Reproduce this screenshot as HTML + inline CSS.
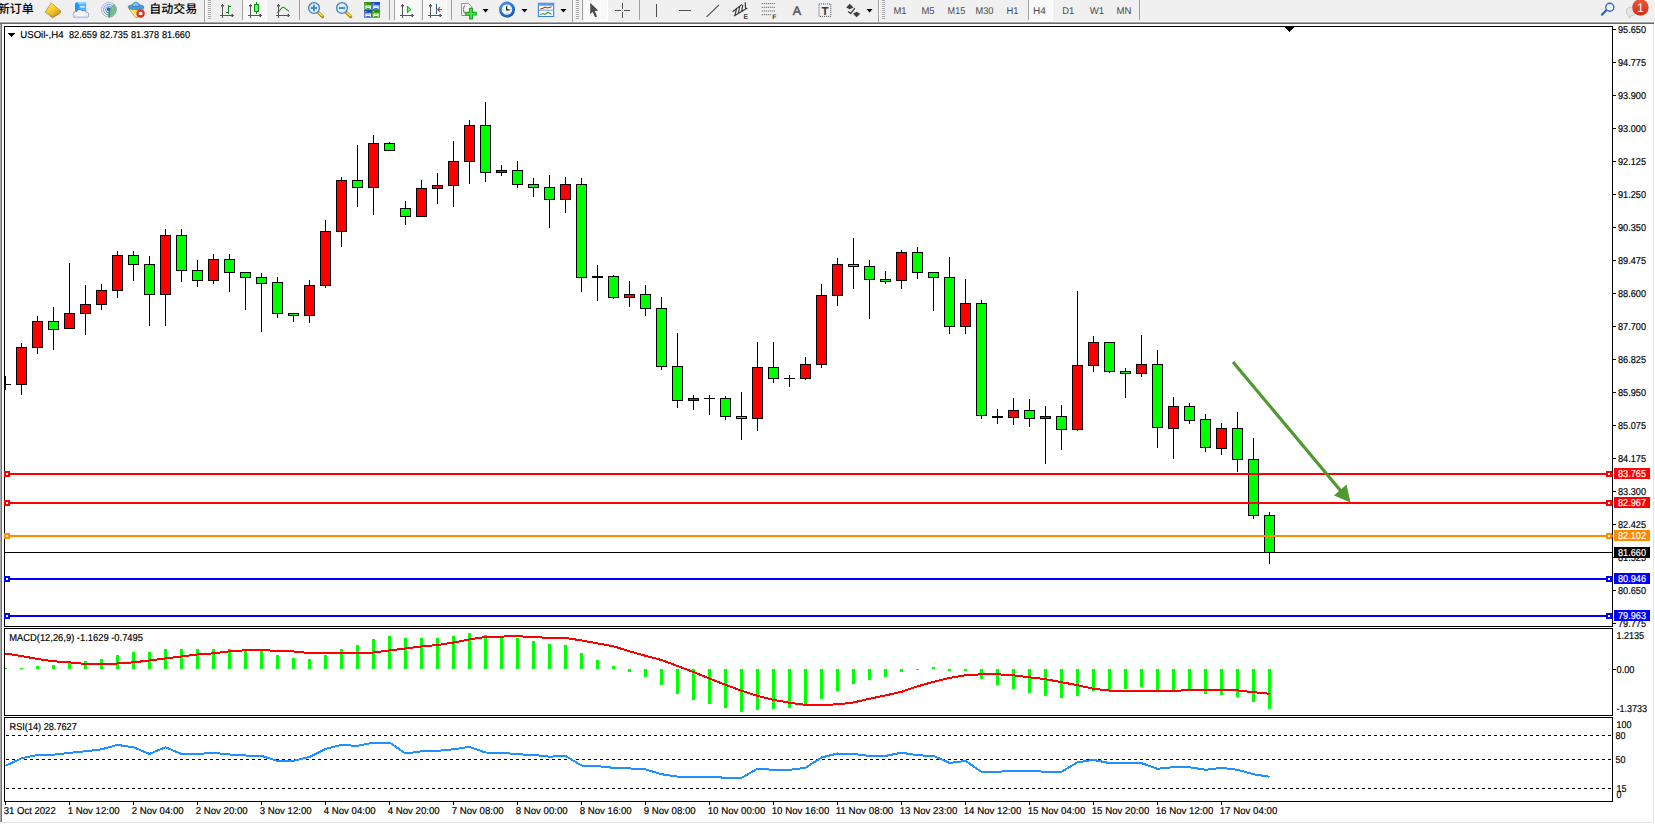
<!DOCTYPE html>
<html lang="zh-CN"><head><meta charset="utf-8"><title>USOil-,H4</title>
<style>html,body{margin:0;padding:0;background:#f0f0f0;overflow:hidden}svg{display:block}text{font-family:"Liberation Sans","Noto Sans CJK SC",sans-serif;white-space:pre;text-rendering:geometricPrecision}</style></head><body>
<svg width="1655" height="824" viewBox="0 0 1655 824" shape-rendering="crispEdges">
<rect x="0" y="0" width="1655" height="824" fill="#f0f0f0"/>
<rect x="0" y="21" width="1655" height="1" fill="#f7f7f7"/>
<rect x="0" y="22" width="1654" height="1" fill="#a3a3a3"/>
<rect x="0" y="23" width="1654" height="1" fill="#6c6c6c"/>
<rect x="2" y="24" width="1653" height="800" fill="#ffffff"/>
<rect x="0" y="24" width="1" height="798" fill="#a8a8a8"/>
<rect x="1" y="24" width="1" height="798" fill="#727272"/>
<rect x="1653" y="24" width="1" height="799" fill="#e4e4e4"/>
<rect x="2" y="822" width="1652" height="1" fill="#e4e4e4"/>
<rect x="0" y="822" width="2" height="2" fill="#f0f0f0"/>
<g shape-rendering="geometricPrecision">
<text x="-2.2" y="13.3" font-size="12" font-weight="500" fill="#000">新订单</text>
<text x="149.3" y="13.4" font-size="12" font-weight="500" fill="#000">自动交易</text>
<defs><linearGradient id="gd" x1="0" y1="0" x2="1" y2="1"><stop offset="0" stop-color="#ffe978"/><stop offset=".5" stop-color="#f7c928"/><stop offset="1" stop-color="#d89a10"/></linearGradient><linearGradient id="bl" x1="0" y1="0" x2="0" y2="1"><stop offset="0" stop-color="#6cc0ff"/><stop offset="1" stop-color="#1573d8"/></linearGradient><radialGradient id="ck" cx=".4" cy=".35" r=".7"><stop offset="0" stop-color="#5fb2ff"/><stop offset="1" stop-color="#0b4fae"/></radialGradient><linearGradient id="rd" x1="0" y1="0" x2="0" y2="1"><stop offset="0" stop-color="#ec5a3a"/><stop offset="1" stop-color="#d42a12"/></linearGradient></defs>
<polygon points="51.2,3 60.8,11 60.1,13.2 52.5,17.8 45.2,12.1" fill="#b87c12" stroke="#a8700e" stroke-width=".6"/>
<polygon points="51.2,3.2 60.4,10.8 52.4,15.4 45.6,12" fill="url(#gd)"/>
<polyline points="45.8,12.6 52.4,16.2 60.2,11.8" fill="none" stroke="#f6d878" stroke-width=".7" opacity=".9"/>
<polygon points="75,3.6 77.4,2 86.2,2.5 86.2,11 75,11" fill="#52b4ff"/>
<polygon points="75,3.6 77.4,2 78.8,4.2 78.8,11.4 75,11" fill="#1a98ff"/>
<polygon points="77.4,2 86.2,2.5 86.2,3.6 78.8,4.2" fill="#9ad6ff"/>
<rect x="80.2" y="6.1" width="4.4" height="1.4" fill="#f2faff"/>
<circle cx="76.1" cy="14.7" r="3.3499999999999996" fill="#5f82c4"/>
<circle cx="79.6" cy="12.8" r="3.45" fill="#5f82c4"/>
<circle cx="83.8" cy="13.3" r="2.95" fill="#5f82c4"/>
<circle cx="85.9" cy="15" r="3.05" fill="#5f82c4"/>
<rect x="76" y="15" width="10" height="3.05" fill="#5f82c4"/>
<circle cx="76.1" cy="14.7" r="2.8" fill="#f6f9fd"/>
<circle cx="79.6" cy="12.8" r="2.9" fill="#f6f9fd"/>
<circle cx="83.8" cy="13.3" r="2.4" fill="#f6f9fd"/>
<circle cx="85.9" cy="15" r="2.5" fill="#f6f9fd"/>
<rect x="76" y="13" width="10" height="4.5" fill="#f6f9fd"/>
<path d="M74.2 15.9 q6.8 1.8 13.4 0" fill="none" stroke="#ccd8ec" stroke-width="1.3"/>
<path d="M108.9 9.7 L113.8 3.8 A7.7 7.7 0 0 1 108.9 17.4 Z" fill="#58b060" opacity=".55"/>
<g fill="none" stroke="#4a78dc"><circle cx="108.9" cy="9.7" r="7.4" stroke-width=".9" opacity=".5"/><circle cx="108.9" cy="9.7" r="5.3" stroke-width="1" opacity=".7"/><circle cx="108.9" cy="9.7" r="3.2" stroke-width="1" opacity=".85"/></g>
<path d="M108.9 9.7 L113.8 3.8 A7.7 7.7 0 0 1 108.9 17.4 Z" fill="#6cc070" opacity=".45"/>
<circle cx="108.7" cy="9.4" r="1.8" fill="#2458d0"/>
<path d="M109.2 10 V17.5" stroke="#18a828" stroke-width="1.4" fill="none"/>
<path d="M128.8 8.6 L144 8.6 L141 13 L138 17.6 L135.6 17.6 Z" fill="#f8dc58" stroke="#c89a1c" stroke-width=".8"/>
<path d="M130.5 9.6 L136.4 16.8" stroke="#fff6b8" stroke-width="1" fill="none"/>
<ellipse cx="136" cy="7" rx="7.9" ry="2.5" fill="#4e9edc" stroke="#2a78b8" stroke-width=".7"/>
<path d="M132.4 6.6 a3.5 4.4 0 0 1 7 0 z" fill="#7cc0ee" stroke="#2a78b8" stroke-width=".7"/>
<circle cx="140.6" cy="13.5" r="4.2" fill="#d8281a"/><circle cx="140.2" cy="12.9" r="3" fill="#e84a32" opacity=".6"/>
<rect x="138.9" y="12" width="3.4" height="3" fill="#fff"/>
</g>
<rect x="204" y="0" width="1" height="22" fill="#a0a0a0"/>
<rect x="205" y="0" width="1" height="22" fill="#fbfbfb"/>
<rect x="208" y="0" width="3" height="1" fill="#a4a4a4"/>
<rect x="208" y="1" width="3" height="1" fill="#f8f8f8"/>
<rect x="208" y="2" width="3" height="1" fill="#a4a4a4"/>
<rect x="208" y="3" width="3" height="1" fill="#f8f8f8"/>
<rect x="208" y="4" width="3" height="1" fill="#a4a4a4"/>
<rect x="208" y="5" width="3" height="1" fill="#f8f8f8"/>
<rect x="208" y="6" width="3" height="1" fill="#a4a4a4"/>
<rect x="208" y="7" width="3" height="1" fill="#f8f8f8"/>
<rect x="208" y="8" width="3" height="1" fill="#a4a4a4"/>
<rect x="208" y="9" width="3" height="1" fill="#f8f8f8"/>
<rect x="208" y="10" width="3" height="1" fill="#a4a4a4"/>
<rect x="208" y="11" width="3" height="1" fill="#f8f8f8"/>
<rect x="208" y="12" width="3" height="1" fill="#a4a4a4"/>
<rect x="208" y="13" width="3" height="1" fill="#f8f8f8"/>
<rect x="208" y="14" width="3" height="1" fill="#a4a4a4"/>
<rect x="208" y="15" width="3" height="1" fill="#f8f8f8"/>
<rect x="208" y="16" width="3" height="1" fill="#a4a4a4"/>
<rect x="208" y="17" width="3" height="1" fill="#f8f8f8"/>
<rect x="208" y="18" width="3" height="1" fill="#a4a4a4"/>
<rect x="208" y="19" width="3" height="1" fill="#f8f8f8"/>
<rect x="222" y="4" width="1" height="14" fill="#555555"/>
<rect x="220" y="15" width="14" height="1" fill="#555555"/>
<rect x="221" y="5" width="3" height="1" fill="#555555"/>
<rect x="232" y="14" width="1" height="3" fill="#555555"/>
<rect x="221" y="6" width="1" height="1" fill="#a9a9a9"/>
<rect x="223" y="6" width="1" height="1" fill="#a9a9a9"/>
<rect x="231" y="14" width="1" height="1" fill="#a9a9a9"/>
<rect x="231" y="16" width="1" height="1" fill="#a9a9a9"/>
<rect x="228" y="5" width="1" height="9" fill="#0d8a12"/>
<rect x="229" y="6" width="2" height="1" fill="#0d8a12"/>
<rect x="226" y="12" width="2" height="1" fill="#0d8a12"/>
<rect x="242" y="0" width="1" height="20" fill="#a0a0a0"/>
<rect x="243" y="0" width="24" height="21" fill="#f9f9f9"/>
<rect x="243" y="20" width="24" height="1" fill="#ffffff"/>
<rect x="266" y="0" width="1" height="21" fill="#ffffff"/>
<rect x="250" y="4" width="1" height="14" fill="#555555"/>
<rect x="248" y="15" width="14" height="1" fill="#555555"/>
<rect x="249" y="5" width="3" height="1" fill="#555555"/>
<rect x="260" y="14" width="1" height="3" fill="#555555"/>
<rect x="249" y="6" width="1" height="1" fill="#a9a9a9"/>
<rect x="251" y="6" width="1" height="1" fill="#a9a9a9"/>
<rect x="259" y="14" width="1" height="1" fill="#a9a9a9"/>
<rect x="259" y="16" width="1" height="1" fill="#a9a9a9"/>
<rect x="256" y="2" width="1" height="12" fill="#0a8a0a"/>
<rect x="254" y="4" width="5" height="8" fill="#0a9a0a"/>
<rect x="255" y="5" width="3" height="6" fill="#5cf06a"/>
<rect x="256" y="5" width="1" height="6" fill="#8cf89a"/>
<rect x="278" y="4" width="1" height="14" fill="#555555"/>
<rect x="276" y="15" width="14" height="1" fill="#555555"/>
<rect x="277" y="5" width="3" height="1" fill="#555555"/>
<rect x="288" y="14" width="1" height="3" fill="#555555"/>
<rect x="277" y="6" width="1" height="1" fill="#a9a9a9"/>
<rect x="279" y="6" width="1" height="1" fill="#a9a9a9"/>
<rect x="287" y="14" width="1" height="1" fill="#a9a9a9"/>
<rect x="287" y="16" width="1" height="1" fill="#a9a9a9"/>
<path d="M277 12.8 C280 11 281.3 7.3 283.2 7.3 C285 7.3 286.6 10 288.9 11.1" stroke="#2a8a2a" stroke-width="1.1" fill="none" shape-rendering="geometricPrecision"/>
<rect x="299" y="0" width="1" height="20" fill="#a0a0a0"/>
<g shape-rendering="geometricPrecision">
<line x1="318.2" y1="12.3" x2="322.6" y2="16.6" stroke="#b8860f" stroke-width="3.2" stroke-linecap="round"/>
<line x1="318.4" y1="12.2" x2="322.6" y2="16.3" stroke="#f7e05a" stroke-width="1.5"/>
<circle cx="314" cy="8.05" r="5.4" fill="#d9f0fb" stroke="#3c7cc6" stroke-width="1.3"/>
<path d="M310.8 8.05 H317.2 M314 4.85 V11.25" stroke="#4a88b6" stroke-width="1.9"/>
</g>
<g shape-rendering="geometricPrecision">
<line x1="346.2" y1="12.3" x2="350.6" y2="16.6" stroke="#b8860f" stroke-width="3.2" stroke-linecap="round"/>
<line x1="346.4" y1="12.2" x2="350.6" y2="16.3" stroke="#f7e05a" stroke-width="1.5"/>
<circle cx="342" cy="8.05" r="5.4" fill="#d9f0fb" stroke="#3c7cc6" stroke-width="1.3"/>
<path d="M338.8 8.05 H345.2" stroke="#4a88b6" stroke-width="1.9"/>
</g>
<g shape-rendering="geometricPrecision">
<rect x="364.2" y="2.1" width="7.8" height="7.8" fill="#3fa21e"/>
<rect x="364.2" y="2.1" width="7.8" height="2.2" fill="#2c8a12"/>
<rect x="365.3" y="3.2" width="1" height="1" fill="#e8f0ff"/>
<path d="M365.4 5.5 H370.8 V8.9 H369.8 V8.1 H366.4 V8.9 H365.4 Z" fill="#ffffff"/>
<rect x="366.59999999999997" y="6.300000000000001" width="3" height=".9" fill="#9ad48a"/>
<rect x="372.1" y="2.1" width="7.8" height="7.8" fill="#3a6ada"/>
<rect x="372.1" y="2.1" width="7.8" height="2.2" fill="#1a44b8"/>
<rect x="373.20000000000005" y="3.2" width="1" height="1" fill="#e8f0ff"/>
<path d="M373.3 5.5 H378.70000000000005 V8.9 H377.70000000000005 V8.1 H374.3 V8.9 H373.3 Z" fill="#ffffff"/>
<rect x="374.5" y="6.300000000000001" width="3" height=".9" fill="#a0b8f0"/>
<rect x="364.2" y="10" width="7.8" height="7.8" fill="#3a6ada"/>
<rect x="364.2" y="10" width="7.8" height="2.2" fill="#1a44b8"/>
<rect x="365.3" y="11.1" width="1" height="1" fill="#e8f0ff"/>
<path d="M365.4 13.4 H370.8 V16.8 H369.8 V16 H366.4 V16.8 H365.4 Z" fill="#ffffff"/>
<rect x="366.59999999999997" y="14.2" width="3" height=".9" fill="#a0b8f0"/>
<rect x="372.1" y="10" width="7.8" height="7.8" fill="#3fa21e"/>
<rect x="372.1" y="10" width="7.8" height="2.2" fill="#2c8a12"/>
<rect x="373.20000000000005" y="11.1" width="1" height="1" fill="#e8f0ff"/>
<path d="M373.3 13.4 H378.70000000000005 V16.8 H377.70000000000005 V16 H374.3 V16.8 H373.3 Z" fill="#ffffff"/>
<rect x="374.5" y="14.2" width="3" height=".9" fill="#9ad48a"/>
</g>
<rect x="389" y="0" width="1" height="20" fill="#a0a0a0"/>
<rect x="394" y="0" width="1" height="20" fill="#a0a0a0"/>
<rect x="395" y="0" width="25" height="21" fill="#f9f9f9"/>
<rect x="395" y="20" width="25" height="1" fill="#ffffff"/>
<rect x="419" y="0" width="1" height="21" fill="#ffffff"/>
<rect x="402" y="4" width="1" height="14" fill="#555555"/>
<rect x="400" y="15" width="14" height="1" fill="#555555"/>
<rect x="401" y="5" width="3" height="1" fill="#555555"/>
<rect x="412" y="14" width="1" height="3" fill="#555555"/>
<rect x="401" y="6" width="1" height="1" fill="#a9a9a9"/>
<rect x="403" y="6" width="1" height="1" fill="#a9a9a9"/>
<rect x="411" y="14" width="1" height="1" fill="#a9a9a9"/>
<rect x="411" y="16" width="1" height="1" fill="#a9a9a9"/>
<polygon points="407.4,6.2 407.4,12.8 411,9.5" fill="#6fe87a" stroke="#0d9a16" stroke-width=".9" shape-rendering="geometricPrecision"/>
<rect x="422" y="0" width="1" height="20" fill="#a0a0a0"/>
<rect x="423" y="0" width="24" height="21" fill="#f9f9f9"/>
<rect x="423" y="20" width="24" height="1" fill="#ffffff"/>
<rect x="446" y="0" width="1" height="21" fill="#ffffff"/>
<rect x="430" y="4" width="1" height="14" fill="#555555"/>
<rect x="428" y="15" width="14" height="1" fill="#555555"/>
<rect x="429" y="5" width="3" height="1" fill="#555555"/>
<rect x="440" y="14" width="1" height="3" fill="#555555"/>
<rect x="429" y="6" width="1" height="1" fill="#a9a9a9"/>
<rect x="431" y="6" width="1" height="1" fill="#a9a9a9"/>
<rect x="439" y="14" width="1" height="1" fill="#a9a9a9"/>
<rect x="439" y="16" width="1" height="1" fill="#a9a9a9"/>
<rect x="436" y="4" width="1" height="10" fill="#1a6a9a"/>
<path d="M437.6 9.5 H442 M440 7.2 L437.8 9.5 L440 11.8" stroke="#c8440e" stroke-width="1.2" fill="none" shape-rendering="geometricPrecision"/>
<rect x="451" y="0" width="1" height="20" fill="#a0a0a0"/>
<g shape-rendering="geometricPrecision">
<path d="M461.5 3.5 H468.6 L471.6 6.5 V15.5 H461.5 Z" fill="#fbfbfb" stroke="#8a8a8a" stroke-width=".9"/>
<path d="M465.2 5.6 q-1.6 0 -1.4 1.8 q.2 1.8 -1 2 q1.2 .2 1 2 q-.2 1.8 1.4 1.8" stroke="#4a3a20" stroke-width=".8" fill="none"/>
<path d="M471 7.8 V19.6 M465.2 13.7 H476.8" stroke="#159a18" stroke-width="3.8"/>
<path d="M471 8.8 V18.6 M466.2 13.7 H475.8" stroke="#48e044" stroke-width="1.9"/>
<polygon points="482.5,9 488.5,9 485.5,12.5" fill="#000"/>
<circle cx="507" cy="9.6" r="8" fill="url(#ck)"/><circle cx="507" cy="9.6" r="5.2" fill="#f4f6fa"/><g fill="#8a94a8"><rect x="506.6" y="5" width=".8" height="1"/><rect x="506.6" y="13.2" width=".8" height="1" fill="#5a9ae8"/><rect x="502.4" y="9.2" width="1" height=".8"/><rect x="510.6" y="9.2" width="1" height=".8"/></g>
<path d="M506.6 6.2 V9.8 H509.6" stroke="#1a1a1a" stroke-width="1.2" fill="none"/>
<polygon points="521.5,9 527.5,9 524.5,12.5" fill="#000"/>
<rect x="538.4" y="3.3" width="15.3" height="13.2" fill="#fff" stroke="#3f7fd6" stroke-width="1.1"/>
<rect x="538.4" y="3.3" width="15.3" height="2.4" fill="#5b9ae6"/>
<path d="M539 10.2 H553.2" stroke="#3f7fd6" stroke-width=".8"/>
<path d="M540.3 9 L543 8.2 L545.4 7 L547.6 8 L551.6 6.8" stroke="#b02a14" stroke-width="1.1" fill="none"/>
<path d="M540.3 14.6 L543 13.6 L545 14.4 L548 12.2 L551.6 14.4" stroke="#1f9a32" stroke-width="1.1" fill="none"/>
<polygon points="560.4,9 566.4,9 563.4,12.5" fill="#000"/>
</g>
<rect x="572" y="0" width="1" height="22" fill="#a0a0a0"/>
<rect x="573" y="0" width="1" height="22" fill="#fbfbfb"/>
<rect x="576" y="0" width="3" height="1" fill="#a4a4a4"/>
<rect x="576" y="1" width="3" height="1" fill="#f8f8f8"/>
<rect x="576" y="2" width="3" height="1" fill="#a4a4a4"/>
<rect x="576" y="3" width="3" height="1" fill="#f8f8f8"/>
<rect x="576" y="4" width="3" height="1" fill="#a4a4a4"/>
<rect x="576" y="5" width="3" height="1" fill="#f8f8f8"/>
<rect x="576" y="6" width="3" height="1" fill="#a4a4a4"/>
<rect x="576" y="7" width="3" height="1" fill="#f8f8f8"/>
<rect x="576" y="8" width="3" height="1" fill="#a4a4a4"/>
<rect x="576" y="9" width="3" height="1" fill="#f8f8f8"/>
<rect x="576" y="10" width="3" height="1" fill="#a4a4a4"/>
<rect x="576" y="11" width="3" height="1" fill="#f8f8f8"/>
<rect x="576" y="12" width="3" height="1" fill="#a4a4a4"/>
<rect x="576" y="13" width="3" height="1" fill="#f8f8f8"/>
<rect x="576" y="14" width="3" height="1" fill="#a4a4a4"/>
<rect x="576" y="15" width="3" height="1" fill="#f8f8f8"/>
<rect x="576" y="16" width="3" height="1" fill="#a4a4a4"/>
<rect x="576" y="17" width="3" height="1" fill="#f8f8f8"/>
<rect x="576" y="18" width="3" height="1" fill="#a4a4a4"/>
<rect x="576" y="19" width="3" height="1" fill="#f8f8f8"/>
<rect x="582" y="0" width="1" height="20" fill="#a0a0a0"/>
<rect x="583" y="0" width="25" height="21" fill="#f9f9f9"/>
<rect x="583" y="20" width="25" height="1" fill="#ffffff"/>
<rect x="607" y="0" width="1" height="21" fill="#ffffff"/>
<polygon points="590.2,2.8 590.2,14.3 592.7,11.9 595.1,17.3 597.1,16.4 594.8,11.1 598.3,10.6" fill="#4e4e4e" shape-rendering="geometricPrecision"/>
<rect x="622" y="3" width="1" height="6" fill="#505050"/>
<rect x="622" y="12" width="1" height="6" fill="#505050"/>
<rect x="615" y="10" width="6" height="1" fill="#505050"/>
<rect x="624" y="10" width="6" height="1" fill="#505050"/>
<rect x="622" y="10" width="1" height="1" fill="#8c8c8c"/>
<rect x="639" y="0" width="1" height="20" fill="#a0a0a0"/>
<g shape-rendering="geometricPrecision" stroke="#4a4a4a" fill="none">
<rect x="656" y="4" width="1" height="13" fill="#505050" stroke="none" shape-rendering="crispEdges"/><rect x="679" y="10" width="12" height="1" fill="#505050" stroke="none" shape-rendering="crispEdges"/>
<path d="M706.6 16.8 L719 4.9" stroke-width="1.15"/>
<path d="M732.6 11.8 L742 4.4 M734 16 L747.4 8 M736.6 8.4 L735 15.4 M739.8 6 L738.4 13.4 M742.8 5 L741.6 11.6 M745.2 2.2 L745.6 9.4" stroke="#3a3a3a" stroke-width="1.2"/>
<path d="M761.8 3.6 H775 M761.8 7.3 H775 M761.8 11 H775 M761.8 14.7 H771" stroke-width="1" stroke-dasharray="1 1"/>
<rect x="819" y="4" width="11.8" height="12.4" stroke-width="1" stroke-dasharray="1 1"/>
</g>
<g shape-rendering="geometricPrecision" fill="#3c3c3c" font-weight="bold">
<text x="743.6" y="18.7" font-size="6.8">E</text><text x="772.3" y="19" font-size="6.6">F</text>
<text x="825" y="15" font-size="11.5" text-anchor="middle">T</text></g>
<text x="796.8" y="15" font-size="12.5" fill="#555" stroke="#555" stroke-width=".5" text-anchor="middle" shape-rendering="geometricPrecision">A</text>
<g shape-rendering="geometricPrecision" fill="#3c3c3c"><polygon points="849.8,3.8 853.4,7.4 849.8,9.2 846.2,7.4"/><polygon points="856.6,17.2 853,13.8 856.6,11.8 860.2,13.8"/><path d="M848.2 11.4 L850.8 13.6 L854.8 8.2" stroke="#3c3c3c" stroke-width="1.3" fill="none"/></g>
<g shape-rendering="geometricPrecision">
<polygon points="866.5,9 872.5,9 869.5,12.5" fill="#000"/>
</g>
<rect x="878" y="0" width="1" height="22" fill="#a0a0a0"/>
<rect x="879" y="0" width="1" height="22" fill="#fbfbfb"/>
<rect x="882" y="0" width="3" height="1" fill="#a4a4a4"/>
<rect x="882" y="1" width="3" height="1" fill="#f8f8f8"/>
<rect x="882" y="2" width="3" height="1" fill="#a4a4a4"/>
<rect x="882" y="3" width="3" height="1" fill="#f8f8f8"/>
<rect x="882" y="4" width="3" height="1" fill="#a4a4a4"/>
<rect x="882" y="5" width="3" height="1" fill="#f8f8f8"/>
<rect x="882" y="6" width="3" height="1" fill="#a4a4a4"/>
<rect x="882" y="7" width="3" height="1" fill="#f8f8f8"/>
<rect x="882" y="8" width="3" height="1" fill="#a4a4a4"/>
<rect x="882" y="9" width="3" height="1" fill="#f8f8f8"/>
<rect x="882" y="10" width="3" height="1" fill="#a4a4a4"/>
<rect x="882" y="11" width="3" height="1" fill="#f8f8f8"/>
<rect x="882" y="12" width="3" height="1" fill="#a4a4a4"/>
<rect x="882" y="13" width="3" height="1" fill="#f8f8f8"/>
<rect x="882" y="14" width="3" height="1" fill="#a4a4a4"/>
<rect x="882" y="15" width="3" height="1" fill="#f8f8f8"/>
<rect x="882" y="16" width="3" height="1" fill="#a4a4a4"/>
<rect x="882" y="17" width="3" height="1" fill="#f8f8f8"/>
<rect x="882" y="18" width="3" height="1" fill="#a4a4a4"/>
<rect x="882" y="19" width="3" height="1" fill="#f8f8f8"/>
<rect x="1028" y="0" width="1" height="20" fill="#a0a0a0"/>
<rect x="1029" y="0" width="24" height="21" fill="#f9f9f9"/>
<rect x="1029" y="20" width="24" height="1" fill="#ffffff"/>
<rect x="1052" y="0" width="1" height="21" fill="#ffffff"/>
<text x="900" y="14" font-size="9.8" fill="#4a4a4a" text-anchor="middle" textLength="13.2" lengthAdjust="spacingAndGlyphs">M1</text>
<text x="928" y="14" font-size="9.8" fill="#4a4a4a" text-anchor="middle" textLength="13.2" lengthAdjust="spacingAndGlyphs">M5</text>
<text x="956.4" y="14" font-size="9.8" fill="#4a4a4a" text-anchor="middle" textLength="17.6" lengthAdjust="spacingAndGlyphs">M15</text>
<text x="984.5" y="14" font-size="9.8" fill="#4a4a4a" text-anchor="middle" textLength="18" lengthAdjust="spacingAndGlyphs">M30</text>
<text x="1012.5" y="14" font-size="9.8" fill="#4a4a4a" text-anchor="middle" textLength="12" lengthAdjust="spacingAndGlyphs">H1</text>
<text x="1039.5" y="14" font-size="9.8" fill="#4a4a4a" text-anchor="middle" textLength="12.8" lengthAdjust="spacingAndGlyphs">H4</text>
<text x="1068.3" y="14" font-size="9.8" fill="#4a4a4a" text-anchor="middle" textLength="12" lengthAdjust="spacingAndGlyphs">D1</text>
<text x="1097" y="14" font-size="9.8" fill="#4a4a4a" text-anchor="middle" textLength="14.4" lengthAdjust="spacingAndGlyphs">W1</text>
<text x="1124" y="14" font-size="9.8" fill="#4a4a4a" text-anchor="middle" textLength="15" lengthAdjust="spacingAndGlyphs">MN</text>
<rect x="1139" y="0" width="1" height="20" fill="#a0a0a0"/>
<g shape-rendering="geometricPrecision">
<line x1="1602" y1="14.6" x2="1606.6" y2="10" stroke="#2f66cc" stroke-width="2.2" stroke-linecap="round"/>
<circle cx="1609.8" cy="7.2" r="4" fill="#f4f8ff" stroke="#2f66cc" stroke-width="1.4"/>
<path d="M1626.5 11.5 a4.6 4 0 0 1 9 -1.5 v4 a5 3 0 0 1 -4.5 1.8 l-1.6 2.4 l-.4 -2.6 a4.6 4 0 0 1 -2.5 -4.1 z" fill="#e4e6ea" stroke="#b9bcc4" stroke-width=".7"/>
<circle cx="1640.4" cy="7.4" r="8.2" fill="url(#rd)"/>
<text x="1640.4" y="12" font-size="12.5" fill="#fff" text-anchor="middle">1</text>
</g>
<rect x="4" y="26" width="1609" height="1" fill="#000"/>
<rect x="4" y="626" width="1609" height="1" fill="#000"/>
<rect x="4" y="26" width="1" height="601" fill="#000"/>
<rect x="1612" y="26" width="1" height="601" fill="#000"/>
<rect x="4" y="628" width="1609" height="1" fill="#000"/>
<rect x="4" y="715" width="1609" height="1" fill="#000"/>
<rect x="4" y="628" width="1" height="88" fill="#000"/>
<rect x="1612" y="628" width="1" height="88" fill="#000"/>
<rect x="4" y="717" width="1609" height="1" fill="#000"/>
<rect x="4" y="801" width="1609" height="1" fill="#000"/>
<rect x="4" y="717" width="1" height="85" fill="#000"/>
<rect x="1612" y="717" width="1" height="85" fill="#000"/>
<rect x="5" y="376" width="1" height="14" fill="#000"/>
<rect x="5" y="384" width="6" height="1" fill="#000"/>
<rect x="21" y="343" width="1" height="52" fill="#000"/>
<rect x="16" y="347" width="11" height="38" fill="#000"/>
<rect x="17" y="348" width="9" height="36" fill="#ff0000"/>
<rect x="37" y="316" width="1" height="38" fill="#000"/>
<rect x="32" y="321" width="11" height="27" fill="#000"/>
<rect x="33" y="322" width="9" height="25" fill="#ff0000"/>
<rect x="53" y="307" width="1" height="43" fill="#000"/>
<rect x="48" y="321" width="11" height="9" fill="#000"/>
<rect x="49" y="322" width="9" height="7" fill="#00ff00"/>
<rect x="69" y="263" width="1" height="66" fill="#000"/>
<rect x="64" y="313" width="11" height="16" fill="#000"/>
<rect x="65" y="314" width="9" height="14" fill="#ff0000"/>
<rect x="85" y="285" width="1" height="50" fill="#000"/>
<rect x="80" y="304" width="11" height="10" fill="#000"/>
<rect x="81" y="305" width="9" height="8" fill="#ff0000"/>
<rect x="101" y="284" width="1" height="26" fill="#000"/>
<rect x="96" y="290" width="11" height="15" fill="#000"/>
<rect x="97" y="291" width="9" height="13" fill="#ff0000"/>
<rect x="117" y="251" width="1" height="47" fill="#000"/>
<rect x="112" y="255" width="11" height="36" fill="#000"/>
<rect x="113" y="256" width="9" height="34" fill="#ff0000"/>
<rect x="133" y="251" width="1" height="30" fill="#000"/>
<rect x="128" y="255" width="11" height="10" fill="#000"/>
<rect x="129" y="256" width="9" height="8" fill="#00ff00"/>
<rect x="149" y="256" width="1" height="70" fill="#000"/>
<rect x="144" y="264" width="11" height="31" fill="#000"/>
<rect x="145" y="265" width="9" height="29" fill="#00ff00"/>
<rect x="165" y="229" width="1" height="97" fill="#000"/>
<rect x="160" y="235" width="11" height="60" fill="#000"/>
<rect x="161" y="236" width="9" height="58" fill="#ff0000"/>
<rect x="181" y="229" width="1" height="53" fill="#000"/>
<rect x="176" y="235" width="11" height="36" fill="#000"/>
<rect x="177" y="236" width="9" height="34" fill="#00ff00"/>
<rect x="197" y="260" width="1" height="27" fill="#000"/>
<rect x="192" y="270" width="11" height="11" fill="#000"/>
<rect x="193" y="271" width="9" height="9" fill="#00ff00"/>
<rect x="213" y="254" width="1" height="30" fill="#000"/>
<rect x="208" y="259" width="11" height="22" fill="#000"/>
<rect x="209" y="260" width="9" height="20" fill="#ff0000"/>
<rect x="229" y="254" width="1" height="38" fill="#000"/>
<rect x="224" y="259" width="11" height="14" fill="#000"/>
<rect x="225" y="260" width="9" height="12" fill="#00ff00"/>
<rect x="245" y="272" width="1" height="38" fill="#000"/>
<rect x="240" y="272" width="11" height="6" fill="#000"/>
<rect x="241" y="273" width="9" height="4" fill="#00ff00"/>
<rect x="261" y="273" width="1" height="59" fill="#000"/>
<rect x="256" y="277" width="11" height="7" fill="#000"/>
<rect x="257" y="278" width="9" height="5" fill="#00ff00"/>
<rect x="277" y="277" width="1" height="41" fill="#000"/>
<rect x="272" y="282" width="11" height="32" fill="#000"/>
<rect x="273" y="283" width="9" height="30" fill="#00ff00"/>
<rect x="293" y="313" width="1" height="9" fill="#000"/>
<rect x="288" y="313" width="11" height="3" fill="#000"/>
<rect x="289" y="314" width="9" height="1" fill="#00ff00"/>
<rect x="309" y="280" width="1" height="43" fill="#000"/>
<rect x="304" y="285" width="11" height="31" fill="#000"/>
<rect x="305" y="286" width="9" height="29" fill="#ff0000"/>
<rect x="325" y="220" width="1" height="68" fill="#000"/>
<rect x="320" y="231" width="11" height="55" fill="#000"/>
<rect x="321" y="232" width="9" height="53" fill="#ff0000"/>
<rect x="341" y="177" width="1" height="70" fill="#000"/>
<rect x="336" y="180" width="11" height="52" fill="#000"/>
<rect x="337" y="181" width="9" height="50" fill="#ff0000"/>
<rect x="357" y="145" width="1" height="62" fill="#000"/>
<rect x="352" y="180" width="11" height="8" fill="#000"/>
<rect x="353" y="181" width="9" height="6" fill="#00ff00"/>
<rect x="373" y="135" width="1" height="80" fill="#000"/>
<rect x="368" y="143" width="11" height="45" fill="#000"/>
<rect x="369" y="144" width="9" height="43" fill="#ff0000"/>
<rect x="389" y="142" width="1" height="9" fill="#000"/>
<rect x="384" y="143" width="11" height="8" fill="#000"/>
<rect x="385" y="144" width="9" height="6" fill="#00ff00"/>
<rect x="405" y="201" width="1" height="24" fill="#000"/>
<rect x="400" y="208" width="11" height="9" fill="#000"/>
<rect x="401" y="209" width="9" height="7" fill="#00ff00"/>
<rect x="421" y="180" width="1" height="37" fill="#000"/>
<rect x="416" y="188" width="11" height="29" fill="#000"/>
<rect x="417" y="189" width="9" height="27" fill="#ff0000"/>
<rect x="437" y="173" width="1" height="31" fill="#000"/>
<rect x="432" y="185" width="11" height="4" fill="#000"/>
<rect x="433" y="186" width="9" height="2" fill="#ff0000"/>
<rect x="453" y="141" width="1" height="66" fill="#000"/>
<rect x="448" y="161" width="11" height="25" fill="#000"/>
<rect x="449" y="162" width="9" height="23" fill="#ff0000"/>
<rect x="469" y="120" width="1" height="64" fill="#000"/>
<rect x="464" y="125" width="11" height="37" fill="#000"/>
<rect x="465" y="126" width="9" height="35" fill="#ff0000"/>
<rect x="485" y="102" width="1" height="80" fill="#000"/>
<rect x="480" y="125" width="11" height="48" fill="#000"/>
<rect x="481" y="126" width="9" height="46" fill="#00ff00"/>
<rect x="501" y="165" width="1" height="11" fill="#000"/>
<rect x="496" y="170" width="11" height="3" fill="#000"/>
<rect x="497" y="171" width="9" height="1" fill="#ff0000"/>
<rect x="517" y="161" width="1" height="27" fill="#000"/>
<rect x="512" y="170" width="11" height="15" fill="#000"/>
<rect x="513" y="171" width="9" height="13" fill="#00ff00"/>
<rect x="533" y="178" width="1" height="19" fill="#000"/>
<rect x="528" y="184" width="11" height="4" fill="#000"/>
<rect x="529" y="185" width="9" height="2" fill="#00ff00"/>
<rect x="549" y="175" width="1" height="53" fill="#000"/>
<rect x="544" y="187" width="11" height="13" fill="#000"/>
<rect x="545" y="188" width="9" height="11" fill="#00ff00"/>
<rect x="565" y="177" width="1" height="36" fill="#000"/>
<rect x="560" y="184" width="11" height="16" fill="#000"/>
<rect x="561" y="185" width="9" height="14" fill="#ff0000"/>
<rect x="581" y="178" width="1" height="114" fill="#000"/>
<rect x="576" y="184" width="11" height="94" fill="#000"/>
<rect x="577" y="185" width="9" height="92" fill="#00ff00"/>
<rect x="597" y="265" width="1" height="36" fill="#000"/>
<rect x="592" y="276" width="11" height="2" fill="#000"/>
<rect x="613" y="275" width="1" height="24" fill="#000"/>
<rect x="608" y="276" width="11" height="22" fill="#000"/>
<rect x="609" y="277" width="9" height="20" fill="#00ff00"/>
<rect x="629" y="281" width="1" height="26" fill="#000"/>
<rect x="624" y="294" width="11" height="4" fill="#000"/>
<rect x="625" y="295" width="9" height="2" fill="#ff0000"/>
<rect x="645" y="285" width="1" height="31" fill="#000"/>
<rect x="640" y="294" width="11" height="15" fill="#000"/>
<rect x="641" y="295" width="9" height="13" fill="#00ff00"/>
<rect x="661" y="297" width="1" height="73" fill="#000"/>
<rect x="656" y="308" width="11" height="59" fill="#000"/>
<rect x="657" y="309" width="9" height="57" fill="#00ff00"/>
<rect x="677" y="333" width="1" height="75" fill="#000"/>
<rect x="672" y="366" width="11" height="35" fill="#000"/>
<rect x="673" y="367" width="9" height="33" fill="#00ff00"/>
<rect x="693" y="395" width="1" height="15" fill="#000"/>
<rect x="688" y="398" width="11" height="3" fill="#000"/>
<rect x="689" y="399" width="9" height="1" fill="#ff0000"/>
<rect x="709" y="395" width="1" height="20" fill="#000"/>
<rect x="704" y="398" width="11" height="1" fill="#000"/>
<rect x="725" y="396" width="1" height="24" fill="#000"/>
<rect x="720" y="398" width="11" height="19" fill="#000"/>
<rect x="721" y="399" width="9" height="17" fill="#00ff00"/>
<rect x="741" y="392" width="1" height="48" fill="#000"/>
<rect x="736" y="416" width="11" height="3" fill="#000"/>
<rect x="737" y="417" width="9" height="1" fill="#00ff00"/>
<rect x="757" y="342" width="1" height="89" fill="#000"/>
<rect x="752" y="367" width="11" height="52" fill="#000"/>
<rect x="753" y="368" width="9" height="50" fill="#ff0000"/>
<rect x="773" y="342" width="1" height="41" fill="#000"/>
<rect x="768" y="367" width="11" height="12" fill="#000"/>
<rect x="769" y="368" width="9" height="10" fill="#00ff00"/>
<rect x="789" y="375" width="1" height="12" fill="#000"/>
<rect x="784" y="378" width="11" height="1" fill="#000"/>
<rect x="805" y="357" width="1" height="23" fill="#000"/>
<rect x="800" y="364" width="11" height="15" fill="#000"/>
<rect x="801" y="365" width="9" height="13" fill="#ff0000"/>
<rect x="821" y="284" width="1" height="84" fill="#000"/>
<rect x="816" y="295" width="11" height="70" fill="#000"/>
<rect x="817" y="296" width="9" height="68" fill="#ff0000"/>
<rect x="837" y="258" width="1" height="48" fill="#000"/>
<rect x="832" y="264" width="11" height="32" fill="#000"/>
<rect x="833" y="265" width="9" height="30" fill="#ff0000"/>
<rect x="853" y="238" width="1" height="51" fill="#000"/>
<rect x="848" y="264" width="11" height="3" fill="#000"/>
<rect x="849" y="265" width="9" height="1" fill="#00ff00"/>
<rect x="869" y="260" width="1" height="59" fill="#000"/>
<rect x="864" y="266" width="11" height="14" fill="#000"/>
<rect x="865" y="267" width="9" height="12" fill="#00ff00"/>
<rect x="885" y="271" width="1" height="13" fill="#000"/>
<rect x="880" y="279" width="11" height="3" fill="#000"/>
<rect x="881" y="280" width="9" height="1" fill="#00ff00"/>
<rect x="901" y="250" width="1" height="39" fill="#000"/>
<rect x="896" y="252" width="11" height="29" fill="#000"/>
<rect x="897" y="253" width="9" height="27" fill="#ff0000"/>
<rect x="917" y="247" width="1" height="32" fill="#000"/>
<rect x="912" y="252" width="11" height="21" fill="#000"/>
<rect x="913" y="253" width="9" height="19" fill="#00ff00"/>
<rect x="933" y="272" width="1" height="39" fill="#000"/>
<rect x="928" y="272" width="11" height="6" fill="#000"/>
<rect x="929" y="273" width="9" height="4" fill="#00ff00"/>
<rect x="949" y="257" width="1" height="77" fill="#000"/>
<rect x="944" y="277" width="11" height="50" fill="#000"/>
<rect x="945" y="278" width="9" height="48" fill="#00ff00"/>
<rect x="965" y="279" width="1" height="55" fill="#000"/>
<rect x="960" y="303" width="11" height="24" fill="#000"/>
<rect x="961" y="304" width="9" height="22" fill="#ff0000"/>
<rect x="981" y="300" width="1" height="119" fill="#000"/>
<rect x="976" y="303" width="11" height="113" fill="#000"/>
<rect x="977" y="304" width="9" height="111" fill="#00ff00"/>
<rect x="997" y="409" width="1" height="15" fill="#000"/>
<rect x="992" y="416" width="11" height="2" fill="#000"/>
<rect x="1013" y="398" width="1" height="27" fill="#000"/>
<rect x="1008" y="410" width="11" height="8" fill="#000"/>
<rect x="1009" y="411" width="9" height="6" fill="#ff0000"/>
<rect x="1029" y="399" width="1" height="28" fill="#000"/>
<rect x="1024" y="410" width="11" height="9" fill="#000"/>
<rect x="1025" y="411" width="9" height="7" fill="#00ff00"/>
<rect x="1045" y="406" width="1" height="58" fill="#000"/>
<rect x="1040" y="416" width="11" height="3" fill="#000"/>
<rect x="1041" y="417" width="9" height="1" fill="#ff0000"/>
<rect x="1061" y="405" width="1" height="45" fill="#000"/>
<rect x="1056" y="416" width="11" height="14" fill="#000"/>
<rect x="1057" y="417" width="9" height="12" fill="#00ff00"/>
<rect x="1077" y="291" width="1" height="140" fill="#000"/>
<rect x="1072" y="365" width="11" height="65" fill="#000"/>
<rect x="1073" y="366" width="9" height="63" fill="#ff0000"/>
<rect x="1093" y="336" width="1" height="36" fill="#000"/>
<rect x="1088" y="342" width="11" height="24" fill="#000"/>
<rect x="1089" y="343" width="9" height="22" fill="#ff0000"/>
<rect x="1109" y="342" width="1" height="31" fill="#000"/>
<rect x="1104" y="342" width="11" height="30" fill="#000"/>
<rect x="1105" y="343" width="9" height="28" fill="#00ff00"/>
<rect x="1125" y="368" width="1" height="30" fill="#000"/>
<rect x="1120" y="371" width="11" height="3" fill="#000"/>
<rect x="1121" y="372" width="9" height="1" fill="#00ff00"/>
<rect x="1141" y="335" width="1" height="42" fill="#000"/>
<rect x="1136" y="364" width="11" height="10" fill="#000"/>
<rect x="1137" y="365" width="9" height="8" fill="#ff0000"/>
<rect x="1157" y="350" width="1" height="98" fill="#000"/>
<rect x="1152" y="364" width="11" height="64" fill="#000"/>
<rect x="1153" y="365" width="9" height="62" fill="#00ff00"/>
<rect x="1173" y="397" width="1" height="62" fill="#000"/>
<rect x="1168" y="406" width="11" height="23" fill="#000"/>
<rect x="1169" y="407" width="9" height="21" fill="#ff0000"/>
<rect x="1189" y="403" width="1" height="21" fill="#000"/>
<rect x="1184" y="406" width="11" height="15" fill="#000"/>
<rect x="1185" y="407" width="9" height="13" fill="#00ff00"/>
<rect x="1205" y="414" width="1" height="38" fill="#000"/>
<rect x="1200" y="419" width="11" height="29" fill="#000"/>
<rect x="1201" y="420" width="9" height="27" fill="#00ff00"/>
<rect x="1221" y="423" width="1" height="32" fill="#000"/>
<rect x="1216" y="428" width="11" height="21" fill="#000"/>
<rect x="1217" y="429" width="9" height="19" fill="#ff0000"/>
<rect x="1237" y="412" width="1" height="60" fill="#000"/>
<rect x="1232" y="428" width="11" height="32" fill="#000"/>
<rect x="1233" y="429" width="9" height="30" fill="#00ff00"/>
<rect x="1253" y="438" width="1" height="81" fill="#000"/>
<rect x="1248" y="459" width="11" height="57" fill="#000"/>
<rect x="1249" y="460" width="9" height="55" fill="#00ff00"/>
<rect x="1269" y="512" width="1" height="52" fill="#000"/>
<rect x="1264" y="515" width="11" height="38" fill="#000"/>
<rect x="1265" y="516" width="9" height="36" fill="#00ff00"/>
<rect x="1285" y="27" width="9" height="1" fill="#000"/>
<rect x="1286" y="28" width="7" height="1" fill="#000"/>
<rect x="1287" y="29" width="5" height="1" fill="#000"/>
<rect x="1288" y="30" width="3" height="1" fill="#000"/>
<rect x="1289" y="31" width="1" height="1" fill="#000"/>
<rect x="1613" y="29" width="3" height="1" fill="#000"/>
<text x="1618" y="33" font-size="10" fill="#000" stroke="#000" stroke-width=".18" text-anchor="start" textLength="28" lengthAdjust="spacingAndGlyphs">95.650</text>
<rect x="1613" y="62" width="3" height="1" fill="#000"/>
<text x="1618" y="66" font-size="10" fill="#000" stroke="#000" stroke-width=".18" text-anchor="start" textLength="28" lengthAdjust="spacingAndGlyphs">94.775</text>
<rect x="1613" y="95" width="3" height="1" fill="#000"/>
<text x="1618" y="99" font-size="10" fill="#000" stroke="#000" stroke-width=".18" text-anchor="start" textLength="28" lengthAdjust="spacingAndGlyphs">93.900</text>
<rect x="1613" y="128" width="3" height="1" fill="#000"/>
<text x="1618" y="132" font-size="10" fill="#000" stroke="#000" stroke-width=".18" text-anchor="start" textLength="28" lengthAdjust="spacingAndGlyphs">93.000</text>
<rect x="1613" y="161" width="3" height="1" fill="#000"/>
<text x="1618" y="165" font-size="10" fill="#000" stroke="#000" stroke-width=".18" text-anchor="start" textLength="28" lengthAdjust="spacingAndGlyphs">92.125</text>
<rect x="1613" y="194" width="3" height="1" fill="#000"/>
<text x="1618" y="198" font-size="10" fill="#000" stroke="#000" stroke-width=".18" text-anchor="start" textLength="28" lengthAdjust="spacingAndGlyphs">91.250</text>
<rect x="1613" y="227" width="3" height="1" fill="#000"/>
<text x="1618" y="231" font-size="10" fill="#000" stroke="#000" stroke-width=".18" text-anchor="start" textLength="28" lengthAdjust="spacingAndGlyphs">90.350</text>
<rect x="1613" y="260" width="3" height="1" fill="#000"/>
<text x="1618" y="264" font-size="10" fill="#000" stroke="#000" stroke-width=".18" text-anchor="start" textLength="28" lengthAdjust="spacingAndGlyphs">89.475</text>
<rect x="1613" y="293" width="3" height="1" fill="#000"/>
<text x="1618" y="297" font-size="10" fill="#000" stroke="#000" stroke-width=".18" text-anchor="start" textLength="28" lengthAdjust="spacingAndGlyphs">88.600</text>
<rect x="1613" y="326" width="3" height="1" fill="#000"/>
<text x="1618" y="330" font-size="10" fill="#000" stroke="#000" stroke-width=".18" text-anchor="start" textLength="28" lengthAdjust="spacingAndGlyphs">87.700</text>
<rect x="1613" y="359" width="3" height="1" fill="#000"/>
<text x="1618" y="363" font-size="10" fill="#000" stroke="#000" stroke-width=".18" text-anchor="start" textLength="28" lengthAdjust="spacingAndGlyphs">86.825</text>
<rect x="1613" y="392" width="3" height="1" fill="#000"/>
<text x="1618" y="396" font-size="10" fill="#000" stroke="#000" stroke-width=".18" text-anchor="start" textLength="28" lengthAdjust="spacingAndGlyphs">85.950</text>
<rect x="1613" y="425" width="3" height="1" fill="#000"/>
<text x="1618" y="429" font-size="10" fill="#000" stroke="#000" stroke-width=".18" text-anchor="start" textLength="28" lengthAdjust="spacingAndGlyphs">85.075</text>
<rect x="1613" y="458" width="3" height="1" fill="#000"/>
<text x="1618" y="462" font-size="10" fill="#000" stroke="#000" stroke-width=".18" text-anchor="start" textLength="28" lengthAdjust="spacingAndGlyphs">84.175</text>
<rect x="1613" y="491" width="3" height="1" fill="#000"/>
<text x="1618" y="495" font-size="10" fill="#000" stroke="#000" stroke-width=".18" text-anchor="start" textLength="28" lengthAdjust="spacingAndGlyphs">83.300</text>
<rect x="1613" y="524" width="3" height="1" fill="#000"/>
<text x="1618" y="528" font-size="10" fill="#000" stroke="#000" stroke-width=".18" text-anchor="start" textLength="28" lengthAdjust="spacingAndGlyphs">82.425</text>
<rect x="1613" y="557" width="3" height="1" fill="#000"/>
<text x="1618" y="561" font-size="10" fill="#000" stroke="#000" stroke-width=".18" text-anchor="start" textLength="28" lengthAdjust="spacingAndGlyphs">81.525</text>
<rect x="1613" y="590" width="3" height="1" fill="#000"/>
<text x="1618" y="594" font-size="10" fill="#000" stroke="#000" stroke-width=".18" text-anchor="start" textLength="28" lengthAdjust="spacingAndGlyphs">80.650</text>
<rect x="1613" y="623" width="3" height="1" fill="#000"/>
<text x="1618" y="627" font-size="10" fill="#000" stroke="#000" stroke-width=".18" text-anchor="start" textLength="28" lengthAdjust="spacingAndGlyphs">79.775</text>
<rect x="5" y="473" width="1608" height="2" fill="#ff0000"/>
<rect x="4" y="471" width="6" height="6" fill="#ff0000"/>
<rect x="6" y="473" width="2" height="2" fill="#fff"/>
<rect x="1606" y="471" width="6" height="6" fill="#ff0000"/>
<rect x="1608" y="473" width="2" height="2" fill="#fff"/>
<rect x="1614" y="468" width="36" height="11" fill="#ff0000"/>
<text x="1618" y="477" font-size="10" fill="#fff" stroke="#fff" stroke-width=".18" text-anchor="start" textLength="28" lengthAdjust="spacingAndGlyphs">83.765</text>
<rect x="5" y="502" width="1608" height="2" fill="#ff0000"/>
<rect x="4" y="500" width="6" height="6" fill="#ff0000"/>
<rect x="6" y="502" width="2" height="2" fill="#fff"/>
<rect x="1606" y="500" width="6" height="6" fill="#ff0000"/>
<rect x="1608" y="502" width="2" height="2" fill="#fff"/>
<rect x="1614" y="497" width="36" height="11" fill="#ff0000"/>
<text x="1618" y="506" font-size="10" fill="#fff" stroke="#fff" stroke-width=".18" text-anchor="start" textLength="28" lengthAdjust="spacingAndGlyphs">82.967</text>
<rect x="5" y="535" width="1608" height="2" fill="#ff8c00"/>
<rect x="4" y="533" width="6" height="6" fill="#ff8c00"/>
<rect x="6" y="535" width="2" height="2" fill="#fff"/>
<rect x="1606" y="533" width="6" height="6" fill="#ff8c00"/>
<rect x="1608" y="535" width="2" height="2" fill="#fff"/>
<rect x="1614" y="530" width="36" height="11" fill="#ff8c00"/>
<text x="1618" y="539" font-size="10" fill="#fff" stroke="#fff" stroke-width=".18" text-anchor="start" textLength="28" lengthAdjust="spacingAndGlyphs">82.102</text>
<rect x="5" y="552" width="1607" height="1" fill="#000"/>
<rect x="1614" y="547" width="36" height="11" fill="#000"/>
<text x="1618" y="556" font-size="10" fill="#fff" stroke="#fff" stroke-width=".18" text-anchor="start" textLength="28" lengthAdjust="spacingAndGlyphs">81.660</text>
<rect x="5" y="578" width="1608" height="2" fill="#0000ff"/>
<rect x="4" y="576" width="6" height="6" fill="#0000ff"/>
<rect x="6" y="578" width="2" height="2" fill="#fff"/>
<rect x="1606" y="576" width="6" height="6" fill="#0000ff"/>
<rect x="1608" y="578" width="2" height="2" fill="#fff"/>
<rect x="1614" y="573" width="36" height="11" fill="#0000ff"/>
<text x="1618" y="582" font-size="10" fill="#fff" stroke="#fff" stroke-width=".18" text-anchor="start" textLength="28" lengthAdjust="spacingAndGlyphs">80.946</text>
<rect x="5" y="615" width="1608" height="2" fill="#0000ff"/>
<rect x="4" y="613" width="6" height="6" fill="#0000ff"/>
<rect x="6" y="615" width="2" height="2" fill="#fff"/>
<rect x="1606" y="613" width="6" height="6" fill="#0000ff"/>
<rect x="1608" y="615" width="2" height="2" fill="#fff"/>
<rect x="1614" y="610" width="36" height="11" fill="#0000ff"/>
<text x="1618" y="619" font-size="10" fill="#fff" stroke="#fff" stroke-width=".18" text-anchor="start" textLength="28" lengthAdjust="spacingAndGlyphs">79.963</text>
<g shape-rendering="geometricPrecision"><line x1="1233" y1="362" x2="1343" y2="493.5" stroke="#4f9a2e" stroke-width="3.2"/><polygon points="1350.5,502.5 1334,495.5 1346.5,484.5" fill="#4f9a2e"/></g>
<rect x="8" y="33" width="7" height="1" fill="#000"/>
<rect x="9" y="34" width="5" height="1" fill="#000"/>
<rect x="10" y="35" width="3" height="1" fill="#000"/>
<rect x="11" y="36" width="1" height="1" fill="#000"/>
<text x="20.3" y="38" font-size="10" fill="#000" stroke="#000" stroke-width=".18" text-anchor="start" textLength="43.2" lengthAdjust="spacingAndGlyphs">USOil-,H4</text>
<text x="69" y="38" font-size="10" fill="#000" stroke="#000" stroke-width=".18" text-anchor="start" textLength="28" lengthAdjust="spacingAndGlyphs">82.659</text>
<text x="100" y="38" font-size="10" fill="#000" stroke="#000" stroke-width=".18" text-anchor="start" textLength="28" lengthAdjust="spacingAndGlyphs">82.735</text>
<text x="131" y="38" font-size="10" fill="#000" stroke="#000" stroke-width=".18" text-anchor="start" textLength="28" lengthAdjust="spacingAndGlyphs">81.378</text>
<text x="162" y="38" font-size="10" fill="#000" stroke="#000" stroke-width=".18" text-anchor="start" textLength="28" lengthAdjust="spacingAndGlyphs">81.660</text>
<rect x="5" y="668" width="2" height="1" fill="#00ff00"/>
<rect x="20" y="668" width="3" height="1" fill="#00ff00"/>
<rect x="36" y="666" width="3" height="3" fill="#00ff00"/>
<rect x="52" y="665" width="3" height="4" fill="#00ff00"/>
<rect x="68" y="662" width="3" height="7" fill="#00ff00"/>
<rect x="84" y="661" width="3" height="8" fill="#00ff00"/>
<rect x="100" y="659" width="3" height="10" fill="#00ff00"/>
<rect x="116" y="655" width="3" height="14" fill="#00ff00"/>
<rect x="132" y="652" width="3" height="17" fill="#00ff00"/>
<rect x="148" y="652" width="3" height="17" fill="#00ff00"/>
<rect x="164" y="649" width="3" height="20" fill="#00ff00"/>
<rect x="180" y="649" width="3" height="20" fill="#00ff00"/>
<rect x="196" y="649" width="3" height="20" fill="#00ff00"/>
<rect x="212" y="649" width="3" height="20" fill="#00ff00"/>
<rect x="228" y="649" width="3" height="20" fill="#00ff00"/>
<rect x="244" y="650" width="3" height="19" fill="#00ff00"/>
<rect x="260" y="651" width="3" height="18" fill="#00ff00"/>
<rect x="276" y="655" width="3" height="14" fill="#00ff00"/>
<rect x="292" y="658" width="3" height="11" fill="#00ff00"/>
<rect x="308" y="659" width="3" height="10" fill="#00ff00"/>
<rect x="324" y="655" width="3" height="14" fill="#00ff00"/>
<rect x="340" y="649" width="3" height="20" fill="#00ff00"/>
<rect x="356" y="645" width="3" height="24" fill="#00ff00"/>
<rect x="372" y="639" width="3" height="30" fill="#00ff00"/>
<rect x="388" y="636" width="3" height="33" fill="#00ff00"/>
<rect x="404" y="638" width="3" height="31" fill="#00ff00"/>
<rect x="420" y="638" width="3" height="31" fill="#00ff00"/>
<rect x="436" y="638" width="3" height="31" fill="#00ff00"/>
<rect x="452" y="636" width="3" height="33" fill="#00ff00"/>
<rect x="468" y="633" width="3" height="36" fill="#00ff00"/>
<rect x="484" y="635" width="3" height="34" fill="#00ff00"/>
<rect x="500" y="637" width="3" height="32" fill="#00ff00"/>
<rect x="516" y="638" width="3" height="31" fill="#00ff00"/>
<rect x="532" y="641" width="3" height="28" fill="#00ff00"/>
<rect x="548" y="644" width="3" height="25" fill="#00ff00"/>
<rect x="564" y="645" width="3" height="24" fill="#00ff00"/>
<rect x="580" y="653" width="3" height="16" fill="#00ff00"/>
<rect x="596" y="660" width="3" height="9" fill="#00ff00"/>
<rect x="612" y="666" width="3" height="3" fill="#00ff00"/>
<rect x="628" y="669" width="3" height="3" fill="#00ff00"/>
<rect x="644" y="669" width="3" height="8" fill="#00ff00"/>
<rect x="660" y="669" width="3" height="16" fill="#00ff00"/>
<rect x="676" y="669" width="3" height="25" fill="#00ff00"/>
<rect x="692" y="669" width="3" height="31" fill="#00ff00"/>
<rect x="708" y="669" width="3" height="35" fill="#00ff00"/>
<rect x="724" y="669" width="3" height="39" fill="#00ff00"/>
<rect x="740" y="669" width="3" height="43" fill="#00ff00"/>
<rect x="756" y="669" width="3" height="41" fill="#00ff00"/>
<rect x="772" y="669" width="3" height="40" fill="#00ff00"/>
<rect x="788" y="669" width="3" height="39" fill="#00ff00"/>
<rect x="804" y="669" width="3" height="36" fill="#00ff00"/>
<rect x="820" y="669" width="3" height="30" fill="#00ff00"/>
<rect x="836" y="669" width="3" height="22" fill="#00ff00"/>
<rect x="852" y="669" width="3" height="15" fill="#00ff00"/>
<rect x="868" y="669" width="3" height="11" fill="#00ff00"/>
<rect x="884" y="669" width="3" height="8" fill="#00ff00"/>
<rect x="900" y="669" width="3" height="3" fill="#00ff00"/>
<rect x="916" y="669" width="3" height="1" fill="#00ff00"/>
<rect x="932" y="667" width="3" height="2" fill="#00ff00"/>
<rect x="948" y="669" width="3" height="2" fill="#00ff00"/>
<rect x="964" y="669" width="3" height="2" fill="#00ff00"/>
<rect x="980" y="669" width="3" height="10" fill="#00ff00"/>
<rect x="996" y="669" width="3" height="16" fill="#00ff00"/>
<rect x="1012" y="669" width="3" height="20" fill="#00ff00"/>
<rect x="1028" y="669" width="3" height="24" fill="#00ff00"/>
<rect x="1044" y="669" width="3" height="27" fill="#00ff00"/>
<rect x="1060" y="669" width="3" height="29" fill="#00ff00"/>
<rect x="1076" y="669" width="3" height="27" fill="#00ff00"/>
<rect x="1092" y="669" width="3" height="22" fill="#00ff00"/>
<rect x="1108" y="669" width="3" height="21" fill="#00ff00"/>
<rect x="1124" y="669" width="3" height="20" fill="#00ff00"/>
<rect x="1140" y="669" width="3" height="18" fill="#00ff00"/>
<rect x="1156" y="669" width="3" height="21" fill="#00ff00"/>
<rect x="1172" y="669" width="3" height="22" fill="#00ff00"/>
<rect x="1188" y="669" width="3" height="22" fill="#00ff00"/>
<rect x="1204" y="669" width="3" height="25" fill="#00ff00"/>
<rect x="1220" y="669" width="3" height="26" fill="#00ff00"/>
<rect x="1236" y="669" width="3" height="28" fill="#00ff00"/>
<rect x="1252" y="669" width="3" height="33" fill="#00ff00"/>
<rect x="1268" y="669" width="3" height="40" fill="#00ff00"/>
<polyline points="5.5,653.5 21.5,656 37.5,659 53.5,661.3 69.5,662.3 85.5,664 101.5,664 117.5,663.5 133.5,662.3 149.5,660.5 165.5,658.5 181.5,656.5 197.5,654.5 213.5,653.3 229.5,651.3 245.5,650.3 261.5,650 277.5,651 293.5,651.5 309.5,653 325.5,653 341.5,653 357.5,653 373.5,652.5 389.5,650.5 405.5,648.5 421.5,646.5 437.5,645 453.5,642.5 469.5,639.4 485.5,637 501.5,636.6 517.5,636 533.5,637.4 549.5,637.6 565.5,638 581.5,640.4 597.5,643.4 613.5,646.3 629.5,651.3 645.5,655.8 661.5,660 677.5,666 693.5,672 709.5,678.5 725.5,684.8 741.5,690.8 757.5,695.8 773.5,699.8 789.5,702.8 805.5,704.8 821.5,704.8 837.5,704.4 853.5,702.4 869.5,698.8 885.5,695.4 901.5,691.8 917.5,686.4 933.5,681.8 949.5,677.9 965.5,675.3 981.5,674.3 997.5,674.3 1013.5,675.3 1029.5,677.3 1045.5,679.2 1061.5,682.2 1077.5,685.2 1093.5,688.8 1109.5,690.6 1125.5,690.8 1141.5,690.8 1157.5,690.8 1173.5,690.8 1189.5,690.2 1205.5,689.8 1221.5,689.8 1237.5,690.4 1253.5,692.2 1269.5,693.8" fill="none" stroke="#ff0000" stroke-width="2"/>
<text x="9.2" y="641" font-size="10" fill="#000" stroke="#000" stroke-width=".18" text-anchor="start" textLength="133.8" lengthAdjust="spacingAndGlyphs">MACD(12,26,9) -1.1629 -0.7495</text>
<text x="1616.5" y="638.8" font-size="10" fill="#000" stroke="#000" stroke-width=".18" text-anchor="start" textLength="27.5" lengthAdjust="spacingAndGlyphs">1.2135</text>
<rect x="1613" y="669" width="3" height="1" fill="#000"/>
<text x="1616.5" y="673" font-size="10" fill="#000" stroke="#000" stroke-width=".18" text-anchor="start" textLength="18" lengthAdjust="spacingAndGlyphs">0.00</text>
<text x="1616.5" y="711.6" font-size="10" fill="#000" stroke="#000" stroke-width=".18" text-anchor="start" textLength="30.5" lengthAdjust="spacingAndGlyphs">-1.3733</text>
<line x1="6" y1="735.5" x2="1612" y2="735.5" stroke="#000" stroke-width="1" stroke-dasharray="3 3"/>
<line x1="6" y1="759.5" x2="1612" y2="759.5" stroke="#000" stroke-width="1" stroke-dasharray="3 3"/>
<line x1="6" y1="788.5" x2="1612" y2="788.5" stroke="#000" stroke-width="1" stroke-dasharray="3 3"/>
<polyline points="5.5,765.8 21.5,758.3 37.5,754.9 53.5,754.7 69.5,752.9 85.5,751.3 101.5,749.3 117.5,744.9 133.5,747.3 149.5,753.9 165.5,747.3 181.5,753.9 197.5,753.9 213.5,752.9 229.5,754.5 245.5,755.5 261.5,755.9 277.5,760.9 293.5,760.9 309.5,756.9 325.5,748.9 341.5,744.9 357.5,745.9 373.5,742.5 389.5,742.5 405.5,753.5 421.5,751.3 437.5,750.9 453.5,749.3 469.5,746.9 485.5,752.5 501.5,752.7 517.5,754.3 533.5,754.9 549.5,756.7 565.5,755.9 581.5,765.5 597.5,766.2 613.5,767.8 629.5,768.4 645.5,769.4 661.5,774.2 677.5,776.6 693.5,776.6 709.5,776.6 725.5,777.8 741.5,777.8 757.5,768.8 773.5,769.8 789.5,769.8 805.5,767.8 821.5,757.5 837.5,753.5 853.5,753.9 869.5,755.9 885.5,755.9 901.5,752.7 917.5,755.3 933.5,755.9 949.5,762.9 965.5,760.9 981.5,771.8 997.5,771.8 1013.5,770.8 1029.5,770.8 1045.5,771.8 1061.5,771.8 1077.5,762.3 1093.5,759.9 1109.5,763.1 1125.5,763.1 1141.5,763.1 1157.5,768.8 1173.5,767.2 1189.5,767.2 1205.5,769.8 1221.5,767.8 1237.5,769.8 1253.5,774.2 1269.5,776.8" fill="none" stroke="#1e90ff" stroke-width="2"/>
<text x="9.6" y="730" font-size="10" fill="#000" stroke="#000" stroke-width=".18" text-anchor="start" textLength="67.2" lengthAdjust="spacingAndGlyphs">RSI(14) 28.7627</text>
<text x="1616.5" y="728" font-size="10" fill="#000" stroke="#000" stroke-width=".18" text-anchor="start" textLength="15" lengthAdjust="spacingAndGlyphs">100</text>
<text x="1615.5" y="739" font-size="10" fill="#000" stroke="#000" stroke-width=".18" text-anchor="start" textLength="10" lengthAdjust="spacingAndGlyphs">80</text>
<text x="1615.5" y="763" font-size="10" fill="#000" stroke="#000" stroke-width=".18" text-anchor="start" textLength="10" lengthAdjust="spacingAndGlyphs">50</text>
<text x="1616.5" y="791.5" font-size="10" fill="#000" stroke="#000" stroke-width=".18" text-anchor="start" textLength="10" lengthAdjust="spacingAndGlyphs">15</text>
<text x="1616.5" y="798" font-size="10" fill="#000" stroke="#000" stroke-width=".18" text-anchor="start" textLength="5" lengthAdjust="spacingAndGlyphs">0</text>
<rect x="5" y="802" width="1" height="3" fill="#000"/>
<text x="3.7" y="814" font-size="10" fill="#000" stroke="#000" stroke-width=".18" text-anchor="start" textLength="52" lengthAdjust="spacingAndGlyphs">31 Oct 2022</text>
<rect x="69" y="802" width="1" height="3" fill="#000"/>
<text x="67.7" y="814" font-size="10" fill="#000" stroke="#000" stroke-width=".18" text-anchor="start" textLength="52" lengthAdjust="spacingAndGlyphs">1 Nov 12:00</text>
<rect x="133" y="802" width="1" height="3" fill="#000"/>
<text x="131.7" y="814" font-size="10" fill="#000" stroke="#000" stroke-width=".18" text-anchor="start" textLength="52" lengthAdjust="spacingAndGlyphs">2 Nov 04:00</text>
<rect x="197" y="802" width="1" height="3" fill="#000"/>
<text x="195.7" y="814" font-size="10" fill="#000" stroke="#000" stroke-width=".18" text-anchor="start" textLength="52" lengthAdjust="spacingAndGlyphs">2 Nov 20:00</text>
<rect x="261" y="802" width="1" height="3" fill="#000"/>
<text x="259.7" y="814" font-size="10" fill="#000" stroke="#000" stroke-width=".18" text-anchor="start" textLength="52" lengthAdjust="spacingAndGlyphs">3 Nov 12:00</text>
<rect x="325" y="802" width="1" height="3" fill="#000"/>
<text x="323.7" y="814" font-size="10" fill="#000" stroke="#000" stroke-width=".18" text-anchor="start" textLength="52" lengthAdjust="spacingAndGlyphs">4 Nov 04:00</text>
<rect x="389" y="802" width="1" height="3" fill="#000"/>
<text x="387.7" y="814" font-size="10" fill="#000" stroke="#000" stroke-width=".18" text-anchor="start" textLength="52" lengthAdjust="spacingAndGlyphs">4 Nov 20:00</text>
<rect x="453" y="802" width="1" height="3" fill="#000"/>
<text x="451.7" y="814" font-size="10" fill="#000" stroke="#000" stroke-width=".18" text-anchor="start" textLength="52" lengthAdjust="spacingAndGlyphs">7 Nov 08:00</text>
<rect x="517" y="802" width="1" height="3" fill="#000"/>
<text x="515.7" y="814" font-size="10" fill="#000" stroke="#000" stroke-width=".18" text-anchor="start" textLength="52" lengthAdjust="spacingAndGlyphs">8 Nov 00:00</text>
<rect x="581" y="802" width="1" height="3" fill="#000"/>
<text x="579.7" y="814" font-size="10" fill="#000" stroke="#000" stroke-width=".18" text-anchor="start" textLength="52" lengthAdjust="spacingAndGlyphs">8 Nov 16:00</text>
<rect x="645" y="802" width="1" height="3" fill="#000"/>
<text x="643.7" y="814" font-size="10" fill="#000" stroke="#000" stroke-width=".18" text-anchor="start" textLength="52" lengthAdjust="spacingAndGlyphs">9 Nov 08:00</text>
<rect x="709" y="802" width="1" height="3" fill="#000"/>
<text x="707.7" y="814" font-size="10" fill="#000" stroke="#000" stroke-width=".18" text-anchor="start" textLength="57.6" lengthAdjust="spacingAndGlyphs">10 Nov 00:00</text>
<rect x="773" y="802" width="1" height="3" fill="#000"/>
<text x="771.7" y="814" font-size="10" fill="#000" stroke="#000" stroke-width=".18" text-anchor="start" textLength="57.6" lengthAdjust="spacingAndGlyphs">10 Nov 16:00</text>
<rect x="837" y="802" width="1" height="3" fill="#000"/>
<text x="835.7" y="814" font-size="10" fill="#000" stroke="#000" stroke-width=".18" text-anchor="start" textLength="57.6" lengthAdjust="spacingAndGlyphs">11 Nov 08:00</text>
<rect x="901" y="802" width="1" height="3" fill="#000"/>
<text x="899.7" y="814" font-size="10" fill="#000" stroke="#000" stroke-width=".18" text-anchor="start" textLength="57.6" lengthAdjust="spacingAndGlyphs">13 Nov 23:00</text>
<rect x="965" y="802" width="1" height="3" fill="#000"/>
<text x="963.7" y="814" font-size="10" fill="#000" stroke="#000" stroke-width=".18" text-anchor="start" textLength="57.6" lengthAdjust="spacingAndGlyphs">14 Nov 12:00</text>
<rect x="1029" y="802" width="1" height="3" fill="#000"/>
<text x="1027.7" y="814" font-size="10" fill="#000" stroke="#000" stroke-width=".18" text-anchor="start" textLength="57.6" lengthAdjust="spacingAndGlyphs">15 Nov 04:00</text>
<rect x="1093" y="802" width="1" height="3" fill="#000"/>
<text x="1091.7" y="814" font-size="10" fill="#000" stroke="#000" stroke-width=".18" text-anchor="start" textLength="57.6" lengthAdjust="spacingAndGlyphs">15 Nov 20:00</text>
<rect x="1157" y="802" width="1" height="3" fill="#000"/>
<text x="1155.7" y="814" font-size="10" fill="#000" stroke="#000" stroke-width=".18" text-anchor="start" textLength="57.6" lengthAdjust="spacingAndGlyphs">16 Nov 12:00</text>
<rect x="1221" y="802" width="1" height="3" fill="#000"/>
<text x="1219.7" y="814" font-size="10" fill="#000" stroke="#000" stroke-width=".18" text-anchor="start" textLength="57.6" lengthAdjust="spacingAndGlyphs">17 Nov 04:00</text>
</svg></body></html>
